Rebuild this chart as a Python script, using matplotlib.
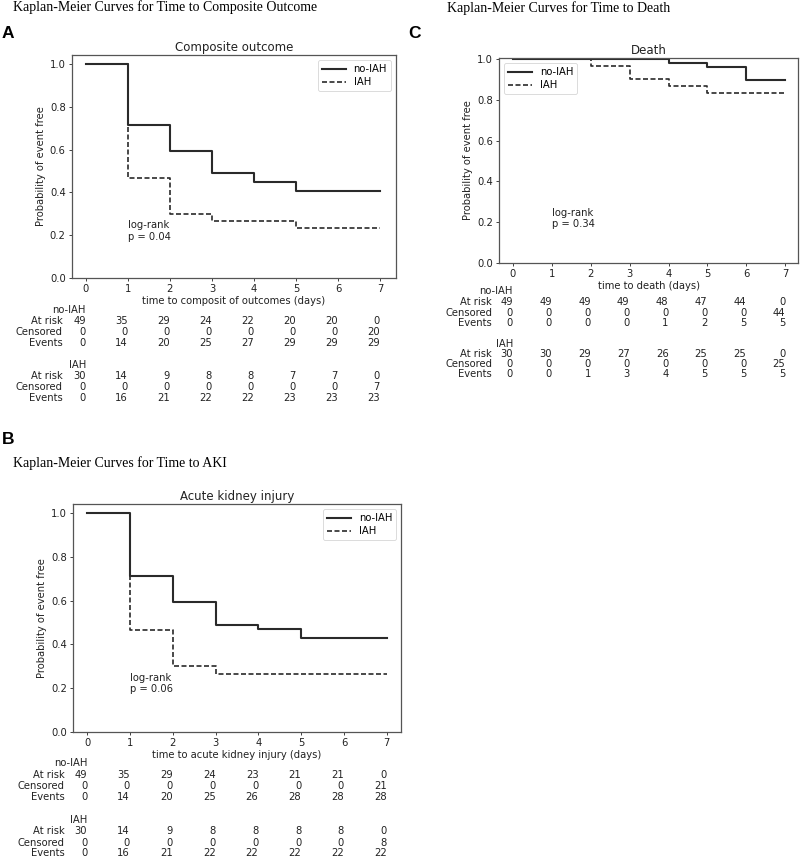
import matplotlib
matplotlib.use("Agg")
import matplotlib.pyplot as plt
import matplotlib.transforms as mtransforms

W, H = 800, 858

days = [0, 1, 2, 3, 4, 5, 6, 7]

# survival curves
comp_no = [1.0, 0.714, 0.592, 0.490, 0.449, 0.408, 0.408, 0.408]
comp_iah = [1.0, 0.467, 0.300, 0.267, 0.267, 0.233, 0.233, 0.233]
aki_no = [1.0, 0.714, 0.592, 0.490, 0.469, 0.429, 0.429, 0.429]
aki_iah = [1.0, 0.467, 0.300, 0.267, 0.267, 0.267, 0.267, 0.267]
death_no = [1.0, 1.0, 1.0, 1.0, 0.980, 0.959, 0.898, 0.898]
death_iah = [1.0, 1.0, 0.967, 0.900, 0.867, 0.833, 0.833, 0.833]

# at-risk tables
comp_no_risk = [49, 35, 29, 24, 22, 20, 20, 0]
comp_no_cens = [0, 0, 0, 0, 0, 0, 0, 20]
comp_no_evt = [0, 14, 20, 25, 27, 29, 29, 29]
comp_iah_risk = [30, 14, 9, 8, 8, 7, 7, 0]
comp_iah_cens = [0, 0, 0, 0, 0, 0, 0, 7]
comp_iah_evt = [0, 16, 21, 22, 22, 23, 23, 23]

aki_no_risk = [49, 35, 29, 24, 23, 21, 21, 0]
aki_no_cens = [0, 0, 0, 0, 0, 0, 0, 21]
aki_no_evt = [0, 14, 20, 25, 26, 28, 28, 28]
aki_iah_risk = [30, 14, 9, 8, 8, 8, 8, 0]
aki_iah_cens = [0, 0, 0, 0, 0, 0, 0, 8]
aki_iah_evt = [0, 16, 21, 22, 22, 22, 22, 22]

death_no_risk = [49, 49, 49, 49, 48, 47, 44, 0]
death_no_cens = [0, 0, 0, 0, 0, 0, 0, 44]
death_no_evt = [0, 0, 0, 0, 1, 2, 5, 5]
death_iah_risk = [30, 30, 29, 27, 26, 25, 25, 0]
death_iah_cens = [0, 0, 0, 0, 0, 0, 0, 25]
death_iah_evt = [0, 0, 1, 3, 4, 5, 5, 5]

groups = ["no-IAH", "IAH"]
row_names = ["At risk", "Censored", "Events"]

fig = plt.figure(figsize=(W / 100, H / 100), dpi=100)
ink = "#222222"
fs = 7.2


def px_axes(l, t, r, b):
    return fig.add_axes([l / W, 1 - b / H, (r - l) / W, (b - t) / H])


def fy(y):
    return 1 - y / H


def panel(box, xlim, ylim, title, xlabel, s_no, s_iah, ptxt, legloc,
          tables, row_y, label_x):
    ax = px_axes(*box)
    ax.plot(days, s_no, drawstyle="steps-post", color="#2a2a2a", lw=1.5, label=groups[0])
    ax.plot(days, s_iah, drawstyle="steps-post", color="#2a2a2a", lw=1.2,
            ls=(0, (3, 1.5)), label=groups[1])
    ax.set_xlim(*xlim)
    ax.set_ylim(*ylim)
    ax.set_xticks(days)
    ax.set_yticks([0.0, 0.2, 0.4, 0.6, 0.8, 1.0])
    ax.set_yticklabels(["0.0", "0.2", "0.4", "0.6", "0.8", "1.0"])
    ax.tick_params(labelsize=fs, colors=ink, length=2.5, width=0.6, pad=2)
    for s in ax.spines.values():
        s.set_color("#555555")
        s.set_linewidth(0.9)
    ax.set_title(title, fontsize=8.5, color=ink, pad=3)
    ax.set_xlabel(xlabel, fontsize=fs, color=ink, labelpad=1)
    ax.set_ylabel("Probability of event free", fontsize=fs, color=ink, labelpad=3)
    ax.text(1, 0.22, "log-rank\np = " + ptxt, fontsize=fs, color=ink,
            va="center", ha="left", linespacing=1.15)
    leg = ax.legend(loc=legloc, fontsize=fs, handlelength=2.4, frameon=True,
                    borderpad=0.4, labelspacing=0.3, handletextpad=0.8)
    leg.get_frame().set_edgecolor("#cccccc")
    leg.get_frame().set_linewidth(0.6)

    tr = mtransforms.blended_transform_factory(ax.transData, fig.transFigure)
    for gi, g in enumerate(groups):
        ys = row_y[gi]
        ax.text(0, fy(ys[0]), g, transform=tr, ha="right", va="center",
                fontsize=fs, color=ink)
        for ri, name in enumerate(row_names):
            y = fy(ys[ri + 1])
            fig.text(label_x / W, y, name, ha="right", va="center",
                     fontsize=fs, color=ink)
            for d, v in zip(days, tables[gi][ri]):
                ax.text(d, y, str(v), transform=tr, ha="right", va="center",
                        fontsize=fs, color=ink)
    return ax


# panel A
panel((72, 55, 396, 278), (-0.33, 7.38), (0, 1.042), "Composite outcome",
      "time to composit of outcomes (days)", comp_no, comp_iah, "0.04",
      "upper right",
      [[comp_no_risk, comp_no_cens, comp_no_evt],
       [comp_iah_risk, comp_iah_cens, comp_iah_evt]],
      [[310, 321, 332, 343], [365, 376, 387, 398]], 63)

# panel C
panel((499, 58, 798, 263), (-0.36, 7.33), (0, 1.005), "Death",
      "time to death (days)", death_no, death_iah, "0.34", "upper left",
      [[death_no_risk, death_no_cens, death_no_evt],
       [death_iah_risk, death_iah_cens, death_iah_evt]],
      [[291, 302, 313, 323], [344, 354, 364, 374]], 492)

# panel B
panel((73, 504, 401, 732), (-0.33, 7.33), (0, 1.041), "Acute kidney injury",
      "time to acute kidney injury (days)", aki_no, aki_iah, "0.06",
      "upper right",
      [[aki_no_risk, aki_no_cens, aki_no_evt],
       [aki_iah_risk, aki_iah_cens, aki_iah_evt]],
      [[763, 775, 786, 797], [820, 831, 843, 853]], 65)

serif = ["Liberation Serif", "DejaVu Serif"]
bold = ["Liberation Sans", "DejaVu Sans"]
fig.text(13 / W, fy(7), "Kaplan-Meier Curves for Time to Composite Outcome",
         family=serif, fontsize=10, va="center", ha="left", color="black")
fig.text(447 / W, fy(8), "Kaplan-Meier Curves for Time to Death",
         family=serif, fontsize=10, va="center", ha="left", color="black")
fig.text(13 / W, fy(463), "Kaplan-Meier Curves for Time to AKI",
         family=serif, fontsize=10, va="center", ha="left", color="black")
fig.text(2 / W, fy(33), "A", family=bold, fontweight="bold", fontsize=12.5,
         va="center", ha="left", color="black")
fig.text(408 / W, fy(33), "C", family=bold, fontweight="bold", fontsize=12.5,
         va="center", ha="left", color="black")
fig.text(2 / W, fy(439), "B", family=bold, fontweight="bold", fontsize=12.5,
         va="center", ha="left", color="black")

fig.savefig("out.png", dpi=100, facecolor="white")
